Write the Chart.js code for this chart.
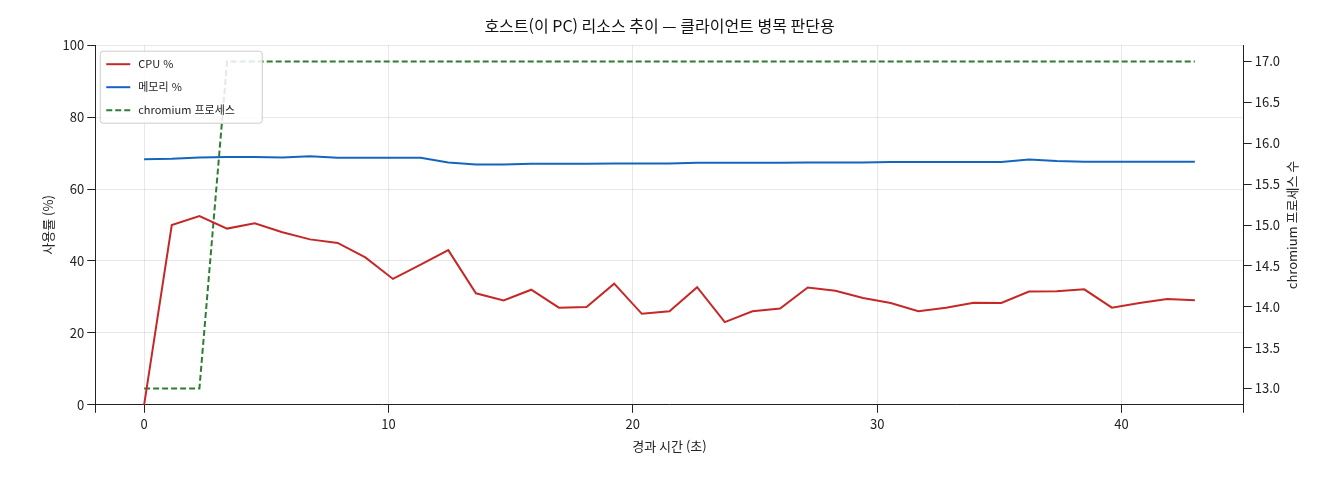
<!DOCTYPE html>
<html lang="ko">
<head>
<meta charset="UTF-8">
<title>호스트 리소스 추이</title>
<style>
  body { margin: 0; background: #fff; }
  #wrap { width: 1320px; height: 480px; }
</style>
</head>
<body>
<div id="wrap"><canvas id="myChart"></canvas></div>
<script src="https://cdn.jsdelivr.net/npm/chart.js@4"></script>
<script>
const FONT = "'Noto Sans CJK KR', 'Noto Sans', sans-serif"
const pointCount = 39
const elapsed = Array.from({length: pointCount}, (_, i) => i * 43 / 38)
const cpu = [0, 50, 52.5, 49, 50.5, 48, 46, 45, 41, 35, 39, 43, 31, 29, 32, 27, 27.2, 33.7, 25.3, 26,
  32.7, 23, 26, 26.8, 32.6, 31.7, 29.7, 28.3, 26, 27, 28.4, 28.3, 31.5, 31.6, 32.1, 27, 28.3, 29.4, 29.1]
const memory = [68.3, 68.4, 68.8, 68.9, 68.9, 68.8, 69.1, 68.7, 68.7, 68.7, 68.7, 67.4, 66.8, 66.8, 67, 67, 67,
  67.1, 67.1, 67.1, 67.3, 67.3, 67.3, 67.3, 67.4, 67.4, 67.4, 67.5, 67.5, 67.5, 67.5, 67.5, 68.2, 67.8, 67.6,
  67.6, 67.6, 67.6, 67.6]
const chromium = [13, 13, 13, 17, 17, 17, 17, 17, 17, 17, 17, 17, 17, 17, 17, 17, 17, 17, 17, 17,
  17, 17, 17, 17, 17, 17, 17, 17, 17, 17, 17, 17, 17, 17, 17, 17, 17, 17, 17]

const pts = arr => arr.map((v, i) => ({x: elapsed[i], y: v}))

// legend inside the plot, top-left, plus right axis title reading bottom-to-top
const extras = {
  id: 'extras',
  afterDraw(chart) {
    const ctx = chart.ctx
    const a = chart.chartArea
    const x = a.left + 5, y = a.top + 6
    ctx.save()
    ctx.fillStyle = 'rgba(255,255,255,0.85)'
    ctx.strokeStyle = '#ccc'
    ctx.lineWidth = 1
    ctx.beginPath()
    ctx.roundRect(x, y, 162, 72, 3)
    ctx.fill(); ctx.stroke()
    ctx.font = '11px ' + FONT
    ctx.textBaseline = 'middle'
    chart.data.datasets.forEach((ds, i) => {
      const ly = y + 13 + i * 23
      ctx.strokeStyle = ds.borderColor
      ctx.lineWidth = 2
      ctx.setLineDash(ds.borderDash || [])
      ctx.beginPath(); ctx.moveTo(x + 6, ly); ctx.lineTo(x + 30, ly); ctx.stroke()
      ctx.setLineDash([])
      ctx.fillStyle = '#222'
      ctx.fillText(ds.label, x + 38, ly)
    })
    ctx.translate(1292, (a.top + a.bottom) / 2)
    ctx.rotate(-Math.PI / 2)
    ctx.textAlign = 'center'
    ctx.font = '13px ' + FONT
    ctx.fillText('chromium 프로세스 수', 0, 0)
    ctx.restore()
  }
}

const chart = new Chart(document.getElementById('myChart'), {
  type: 'line',
  data: {
    datasets: [
      {label: 'CPU %', data: pts(cpu), borderColor: '#c62828', borderWidth: 2, yAxisID: 'y'},
      {label: '메모리 %', data: pts(memory), borderColor: '#1565c0', borderWidth: 2, yAxisID: 'y'},
      {label: 'chromium 프로세스', data: pts(chromium), borderColor: '#2e7d32', borderWidth: 2,
        borderDash: [6, 3], yAxisID: 'y1'}
    ]
  },
  plugins: [extras],
  options: {
    responsive: true,
    maintainAspectRatio: false,
    animation: false,
    elements: {point: {radius: 0}, line: {tension: 0}},
    layout: {padding: {left: 36, right: 37, top: 4, bottom: 22}},
    plugins: {
      legend: {display: false},
      tooltip: {enabled: false},
      title: {display: true, text: '호스트(이 PC) 리소스 추이 — 클라이언트 병목 판단용', color: '#111',
        font: {family: FONT, size: 16, weight: 'normal'}, padding: {top: 12, bottom: 10}}
    },
    scales: {
      x: {
        type: 'linear', min: -2, max: 45,
        ticks: {stepSize: 10, color: '#222', font: {family: FONT, size: 13},
          callback: v => (v % 10 === 0 ? v : '')},
        grid: {color: 'rgba(0,0,0,0.09)', tickColor: '#222', drawTicks: true},
        border: {color: '#222'},
        title: {display: true, text: '경과 시간 (초)', color: '#222', font: {family: FONT, size: 13}}
      },
      y: {
        position: 'left', min: 0, max: 100,
        ticks: {stepSize: 20, color: '#222', font: {family: FONT, size: 13}},
        grid: {color: 'rgba(0,0,0,0.09)', tickColor: '#222'},
        border: {color: '#222'},
        title: {display: true, text: '사용률 (%)', color: '#222', font: {family: FONT, size: 13}}
      },
      y1: {
        position: 'right', min: 12.8, max: 17.2,
        afterBuildTicks: axis => {
          axis.ticks = [13, 13.5, 14, 14.5, 15, 15.5, 16, 16.5, 17].map(v => ({value: v}))
        },
        ticks: {color: '#222', font: {family: FONT, size: 13}, callback: v => v.toFixed(1)},
        grid: {drawOnChartArea: false, tickColor: '#222'},
        border: {color: '#222'},
        title: {display: false}
      }
    }
  }
})
</script>
</body>
</html>
